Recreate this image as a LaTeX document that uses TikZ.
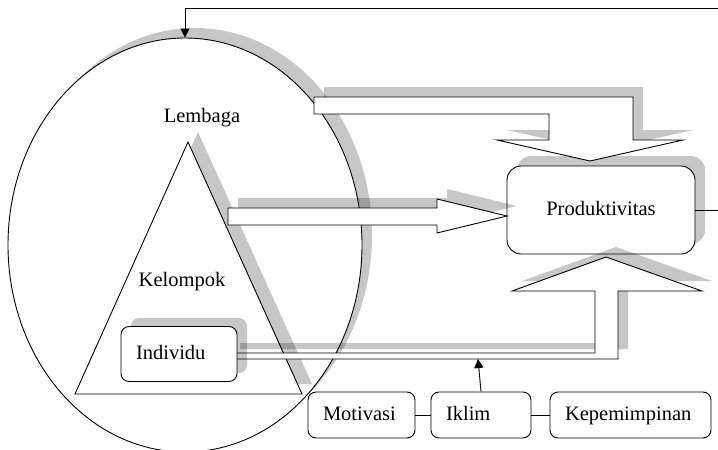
\documentclass[tikz,border=0pt]{standalone}
\usepackage{fontspec}
\setmainfont{Liberation Serif}
\usetikzlibrary{arrows.meta,shapes.geometric}
\tikzset{
	bayang/.style={fill=black,fill opacity=0.22,draw=none,shift={(10,-10)}},
	panah/.style={draw,fill=white},
	kotak/.style={draw,fill=white,rounded corners=8pt,inner xsep=15pt,inner ysep=0pt,align=left,text height=14pt,text depth=4pt,minimum height=46pt},
	ujung/.style={-{Triangle[length=9pt,width=9pt]}}
}

\begin{document}
\begin{tikzpicture}[x=1pt,y=-1pt,line width=0.9pt,font=\fontsize{20.5}{24}\selectfont]
			%%%%% START %%%%%
			\useasboundingbox (0,0) rectangle (718,450);
			\clip (0,0) rectangle (718,450);
			
			% lembaga ellipse
			\fill[bayang] (185,245) ellipse (177pt and 207pt);
			\node[draw,fill=white,ellipse,inner sep=0pt,minimum width=354pt,minimum height=414pt] (lembaga) at (185,245) {};
			
			% triangle
			\fill[bayang] (188,142) -- (302,394) -- (75,394) -- cycle;
			\draw[fill=white] (188,142) -- (302,394) -- (75,394) -- cycle;
			\node (tlembaga) at (202,118) {Lembaga};
			\node (tkelompok) at (182,282) {Kelompok};
			
			% produktivitas
			\fill[bayang,rounded corners=14pt] (507,166) rectangle (695,254);
			\node[draw,fill=white,rounded corners=14pt,minimum width=188pt,minimum height=88pt,text height=14pt,text depth=4pt] (prod) at (601,210) {Produktivitas};
			
			% top bent arrow
			\fill[bayang] (314,97) -- (633,97) -- (633,140) -- (683,140) -- (590,161) -- (497,140) -- (549,140) -- (549,114) -- (314,114) -- cycle;
			\draw[panah] (314,97) -- (633,97) -- (633,140) -- (683,140) -- (590,161) -- (497,140) -- (549,140) -- (549,114) -- (314,114) -- cycle;
			
			% middle arrow
			\fill[bayang] (228,208) -- (437,208) -- (437,199) -- (507,216) -- (437,233) -- (437,225) -- (228,225) -- cycle;
			\draw[panah] (228,208) -- (437,208) -- (437,199) -- (507,216) -- (437,233) -- (437,225) -- (228,225) -- cycle;
			
			% bottom bent arrow
			\fill[bayang] (230,353) -- (595,353) -- (595,291) -- (512,291) -- (606,257) -- (702,291) -- (618,291) -- (618,359) -- (230,359) -- cycle;
			\draw[panah] (230,353) -- (595,353) -- (595,291) -- (512,291) -- (606,257) -- (702,291) -- (618,291) -- (618,359) -- (230,359) -- cycle;
			
			% individu
			\fill[bayang,rounded corners=8pt] (121,328) rectangle (237,383);
			\node[kotak,text width=86pt,minimum height=55pt] (individu) at (179,354) {Individu};
			
			% bottom row
			\node[kotak,text width=77pt] (motivasi) at (361.5,415) {Motivasi};
			\node[kotak,text width=70pt] (iklim) at (481,415) {Iklim};
			\node[kotak,text width=131pt] (kepemimpinan) at (630.5,415) {Kepemimpinan};
			\draw (motivasi) -- (iklim);
			\draw (iklim) -- (kepemimpinan);
			
			\coordinate (batang) at (478,359);
			\draw[ujung] (iklim.north) -- (batang);
			
			% feedback line
			\draw[ujung] (prod.east) -- ++(40,0) |- ([yshift=29pt]lembaga.north) -- (lembaga.north);
			%%%%% END %%%%%
\end{tikzpicture}
\end{document}
